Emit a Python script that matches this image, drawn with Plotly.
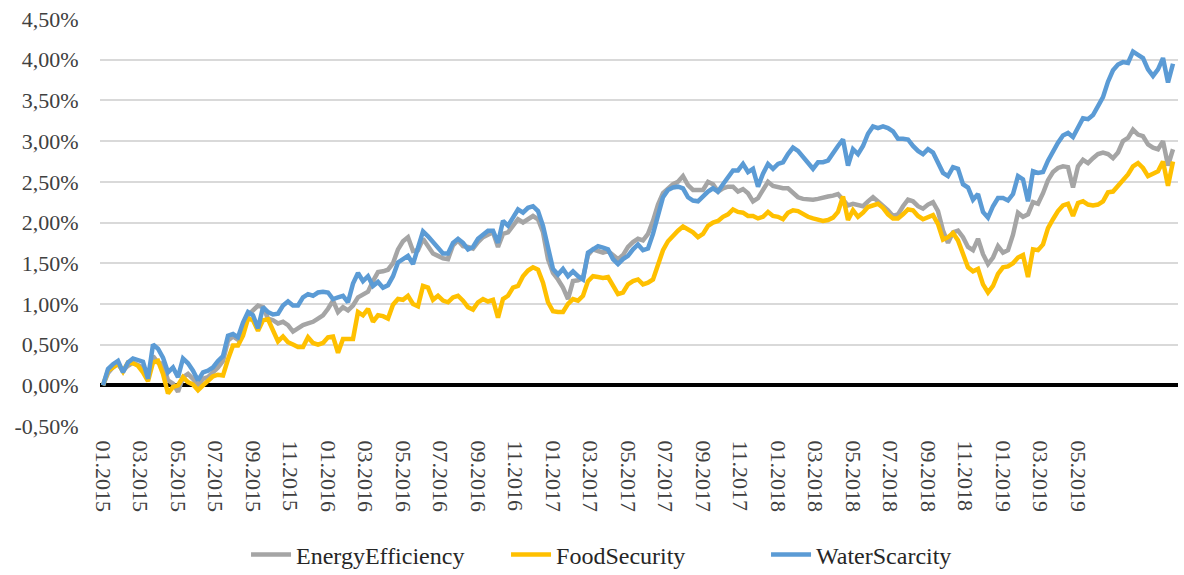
import plotly.graph_objects as go

# Weekly-ish samples, Jan 2015 - mid 2019 (values in %)
energy_efficiency = [
    0.00, 0.15, 0.22, 0.26, 0.18, 0.24, 0.28, 0.25, 0.22, 0.12,
    0.36, 0.28, 0.26, 0.06, 0.02, -0.08, 0.10, 0.14, 0.08, 0.00,
    0.08, 0.10, 0.16, 0.22, 0.30, 0.55, 0.60, 0.56, 0.72, 0.86,
    0.92, 0.98, 0.96, 0.82, 0.80, 0.76, 0.78, 0.74, 0.66, 0.70,
    0.74, 0.76, 0.78, 0.82, 0.86, 0.94, 1.04, 0.90, 0.96, 0.92,
    0.98, 1.08, 1.12, 1.15, 1.28, 1.39, 1.40, 1.42, 1.50, 1.67,
    1.77, 1.82, 1.65, 1.66, 1.80, 1.72, 1.62, 1.59, 1.56, 1.55,
    1.72, 1.78, 1.71, 1.70, 1.68, 1.76, 1.82, 1.85, 1.88, 1.70,
    1.86, 1.88, 1.96, 2.04, 2.00, 2.04, 2.08, 2.04, 1.88, 1.55,
    1.38, 1.30, 1.20, 1.06, 1.28, 1.29, 1.32, 1.60, 1.67, 1.65,
    1.63, 1.65, 1.60, 1.55, 1.60, 1.70, 1.76, 1.80, 1.78, 1.86,
    2.02, 2.22, 2.36, 2.42, 2.47, 2.50, 2.57, 2.46, 2.40, 2.40,
    2.40, 2.50, 2.47, 2.38, 2.42, 2.44, 2.44, 2.38, 2.41, 2.36,
    2.26, 2.30, 2.41, 2.50, 2.45, 2.43, 2.42, 2.42, 2.36, 2.31,
    2.29, 2.28, 2.28, 2.29, 2.31, 2.32, 2.33, 2.35, 2.28, 2.21,
    2.23, 2.21, 2.20, 2.26, 2.31, 2.26, 2.21, 2.15, 2.08, 2.10,
    2.20, 2.28, 2.26, 2.20, 2.17, 2.22, 2.25, 2.14, 1.90, 1.75,
    1.88, 1.90, 1.82, 1.70, 1.66, 1.80, 1.61, 1.49, 1.57, 1.71,
    1.63, 1.66, 1.85, 2.12, 2.07, 2.10, 2.25, 2.23, 2.36, 2.52,
    2.62, 2.67, 2.69, 2.68, 2.43, 2.69, 2.77, 2.73, 2.79, 2.84,
    2.86, 2.84, 2.79, 2.86, 3.00, 3.04, 3.14, 3.08, 3.06, 2.96,
    2.92, 2.90, 3.00, 2.70, 2.90,
]

food_security = [
    0.00, 0.18, 0.22, 0.27, 0.17, 0.28, 0.27, 0.24, 0.16, 0.05,
    0.28, 0.30, 0.14, -0.10, -0.02, 0.00, 0.10, 0.04, 0.01, -0.06,
    0.00, 0.06, 0.11, 0.13, 0.12, 0.32, 0.49, 0.49, 0.61, 0.82,
    0.80, 0.67, 0.80, 0.81, 0.68, 0.54, 0.60, 0.53, 0.50, 0.47,
    0.47, 0.59, 0.52, 0.50, 0.52, 0.59, 0.60, 0.40, 0.57, 0.57,
    0.57, 0.90, 0.86, 0.94, 0.78, 0.86, 0.85, 0.82, 0.99, 1.06,
    1.05, 1.10, 1.00, 0.97, 1.22, 1.20, 1.05, 1.10, 1.04, 1.02,
    1.08, 1.10, 1.04, 0.96, 0.93, 1.02, 1.06, 1.03, 1.05, 0.83,
    1.06, 1.10, 1.20, 1.22, 1.34, 1.41, 1.45, 1.42, 1.26, 1.02,
    0.91, 0.90, 0.90, 1.00, 1.06, 1.04, 1.10, 1.28, 1.34, 1.33,
    1.32, 1.33, 1.22, 1.12, 1.14, 1.24, 1.28, 1.30, 1.24, 1.26,
    1.30, 1.50, 1.66, 1.77, 1.84, 1.90, 1.95, 1.92, 1.88, 1.82,
    1.86, 1.96, 2.00, 2.02, 2.07, 2.10, 2.16, 2.13, 2.12, 2.08,
    2.08, 2.05, 2.07, 2.13, 2.08, 2.07, 2.04, 2.12, 2.15, 2.14,
    2.10, 2.07, 2.05, 2.03, 2.02, 2.03, 2.06, 2.13, 2.32, 2.03,
    2.15, 2.07, 2.12, 2.19, 2.21, 2.23, 2.18, 2.10, 2.05, 2.05,
    2.10, 2.16, 2.15, 2.08, 2.04, 2.07, 2.09, 1.98, 1.79, 1.82,
    1.87, 1.78, 1.62, 1.45, 1.40, 1.43, 1.24, 1.14, 1.22, 1.37,
    1.45, 1.46, 1.50, 1.57, 1.60, 1.33, 1.67, 1.66, 1.73, 1.93,
    2.04, 2.14, 2.21, 2.23, 2.08, 2.24, 2.26, 2.22, 2.21, 2.22,
    2.26, 2.37, 2.38, 2.45, 2.53, 2.59, 2.69, 2.73, 2.67, 2.57,
    2.60, 2.63, 2.75, 2.45, 2.75,
]

water_scarcity = [
    0.00, 0.20, 0.26, 0.30, 0.16, 0.28, 0.33, 0.31, 0.29, 0.08,
    0.50, 0.45, 0.34, 0.16, 0.22, 0.10, 0.33, 0.27, 0.18, 0.06,
    0.16, 0.18, 0.22, 0.30, 0.36, 0.61, 0.63, 0.59, 0.77, 0.90,
    0.86, 0.70, 0.96, 0.90, 0.87, 0.88, 0.98, 1.03, 0.98, 0.98,
    1.08, 1.12, 1.10, 1.14, 1.15, 1.14, 1.06, 1.08, 1.10, 1.02,
    1.25, 1.38, 1.28, 1.34, 1.22, 1.27, 1.20, 1.23, 1.34, 1.51,
    1.55, 1.59, 1.49, 1.71, 1.89, 1.83, 1.76, 1.71, 1.62, 1.62,
    1.75, 1.80, 1.75, 1.67, 1.70, 1.80, 1.85, 1.90, 1.90, 1.75,
    2.02, 1.96, 2.06, 2.16, 2.12, 2.18, 2.20, 2.14, 1.96, 1.67,
    1.43, 1.36, 1.43, 1.34, 1.40, 1.34, 1.30, 1.63, 1.67, 1.71,
    1.69, 1.67, 1.55, 1.49, 1.55, 1.59, 1.67, 1.73, 1.66, 1.68,
    1.86, 2.10, 2.31, 2.40, 2.43, 2.44, 2.42, 2.31, 2.27, 2.26,
    2.32, 2.38, 2.42, 2.38, 2.47, 2.56, 2.64, 2.64, 2.72, 2.62,
    2.66, 2.44, 2.60, 2.72, 2.66, 2.72, 2.74, 2.84, 2.92, 2.88,
    2.80, 2.72, 2.66, 2.74, 2.74, 2.76, 2.86, 2.94, 3.02, 2.70,
    2.90, 2.84, 2.94, 3.09, 3.18, 3.16, 3.18, 3.16, 3.12, 3.03,
    3.03, 3.02, 2.94, 2.88, 2.84, 2.90, 2.86, 2.74, 2.61, 2.57,
    2.68, 2.66, 2.47, 2.43, 2.28, 2.35, 2.13, 2.06, 2.20, 2.30,
    2.30, 2.27, 2.35, 2.57, 2.53, 2.26, 2.63, 2.61, 2.62, 2.76,
    2.88, 2.98, 3.07, 3.10, 3.05, 3.18, 3.28, 3.27, 3.32, 3.43,
    3.54, 3.73, 3.87, 3.94, 3.97, 3.96, 4.10, 4.06, 4.02, 3.88,
    3.80, 3.88, 4.02, 3.72, 3.95,
]

x_labels = [
    "01.2015", "03.2015", "05.2015", "07.2015", "09.2015", "11.2015",
    "01.2016", "03.2016", "05.2016", "07.2016", "09.2016", "11.2016",
    "01.2017", "03.2017", "05.2017", "07.2017", "09.2017", "11.2017",
    "01.2018", "03.2018", "05.2018", "07.2018", "09.2018", "11.2018",
    "01.2019", "03.2019", "05.2019",
]
samples_per_label = 7.5

y_ticks = [-0.5, 0.0, 0.5, 1.0, 1.5, 2.0, 2.5, 3.0, 3.5, 4.0, 4.5]
y_ticktext = [f"{v:.2f}".replace(".", ",") + "%" for v in y_ticks]

x = list(range(len(water_scarcity)))
x_tickvals = [i * samples_per_label for i in range(len(x_labels))]

FONT = "Liberation Serif"
fig = go.Figure()
series = [
    ("EnergyEfficiency", energy_efficiency, "#A5A5A5"),
    ("FoodSecurity", food_security, "#FFC000"),
    ("WaterScarcity", water_scarcity, "#5B9BD5"),
]
for name, vals, col in series:
    fig.add_trace(go.Scatter(x=x, y=vals, mode="lines", name=name,
                             line=dict(color=col, width=4.5)))

fig.update_layout(
    width=1184, height=575,
    margin=dict(l=100, r=6, t=19, b=149),
    paper_bgcolor="white", plot_bgcolor="white",
    font=dict(family=FONT, size=21, color="#404040"),
    showlegend=True,
    legend=dict(orientation="h", xref="container", yref="container",
                x=0.2078, xanchor="left", y=0.0348, yanchor="middle",
                font=dict(family=FONT, size=24, color="#262626"),
                itemwidth=40, entrywidth=205, entrywidthmode="pixels"),
)
fig.update_xaxes(
    range=[-0.6, 215], showgrid=False, zeroline=False, showline=False,
    tickmode="array", tickvals=x_tickvals, ticktext=x_labels, tickangle=90,
    ticks="outside", ticklen=9, tickcolor="rgba(0,0,0,0)", automargin=False,
    tickfont=dict(family=FONT, size=22, color="#404040"),
)
fig.update_yaxes(
    range=[-0.5, 4.5], showgrid=True, gridcolor="#D9D9D9", gridwidth=1.5,
    tickmode="array", tickvals=y_ticks, ticktext=y_ticktext,
    ticks="outside", ticklen=16, tickcolor="rgba(0,0,0,0)", automargin=False,
    zeroline=True, zerolinecolor="black", zerolinewidth=4,
    showline=False,
    tickfont=dict(family=FONT, size=22, color="#404040"),
)

fig.write_html("out.html", config={"displayModeBar": False})

# remove default page margin so the figure sits at the window origin
with open("out.html", "r", encoding="utf-8") as f:
    html = f.read()
html = html.replace("<head>", "<head><style>html,body{margin:0;padding:0;overflow:hidden;}</style>", 1)
with open("out.html", "w", encoding="utf-8") as f:
    f.write(html)
